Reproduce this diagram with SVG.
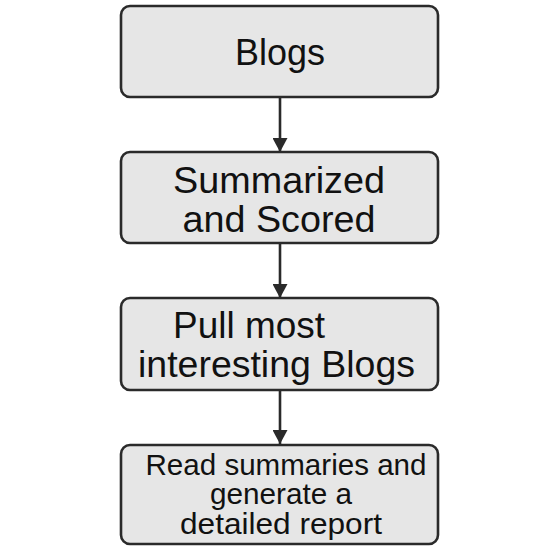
<svg xmlns="http://www.w3.org/2000/svg" width="560" height="560" viewBox="0 0 560 560">
<style>
.box{fill:#e6e6e6;stroke:#2a2a2a;stroke-width:2.6}
.t{font-family:"Liberation Sans",Arial,sans-serif;fill:#111;font-size:36px}
.s{font-size:29px}
.c{stroke:#2a2a2a;stroke-width:2.6;fill:none}
</style>
<defs>
<marker id="ah" viewBox="0 0 14 15" refX="14" refY="7.5" markerWidth="14" markerHeight="15" markerUnits="userSpaceOnUse" orient="auto">
<path d="M0,0 L14,7.5 L0,15 Z" fill="#2a2a2a"/>
</marker>
</defs>
<rect width="560" height="560" fill="#ffffff"/>
<g id="connectors">
<line class="c" x1="280" y1="97" x2="280" y2="152" marker-end="url(#ah)"/>
<line class="c" x1="280" y1="243" x2="280" y2="298" marker-end="url(#ah)"/>
<line class="c" x1="280" y1="390" x2="280" y2="444" marker-end="url(#ah)"/>
</g>
<g id="blogs">
<rect class="box" x="121" y="6" width="317" height="91" rx="9"/>
<text class="t" x="280" y="65" text-anchor="middle" textLength="90" lengthAdjust="spacingAndGlyphs">Blogs</text>
</g>
<g id="summarized">
<rect class="box" x="121" y="152" width="317" height="91" rx="9"/>
<text class="t" x="279" y="193" text-anchor="middle" textLength="212" lengthAdjust="spacingAndGlyphs">Summarized</text>
<text class="t" x="279" y="232" text-anchor="middle" textLength="193" lengthAdjust="spacingAndGlyphs">and Scored</text>
</g>
<g id="pull">
<rect class="box" x="121" y="298" width="317" height="92" rx="9"/>
<text class="t" x="173" y="338" textLength="152" lengthAdjust="spacingAndGlyphs">Pull most</text>
<text class="t" x="138" y="377" textLength="277" lengthAdjust="spacingAndGlyphs">interesting Blogs</text>
</g>
<g id="report">
<rect class="box" x="121" y="445" width="317" height="99" rx="9"/>
<text class="t s" x="286" y="475" text-anchor="middle" textLength="281" lengthAdjust="spacingAndGlyphs">Read summaries and</text>
<text class="t s" x="281" y="504" text-anchor="middle" textLength="142" lengthAdjust="spacingAndGlyphs">generate a</text>
<text class="t s" x="281" y="534" text-anchor="middle" textLength="202" lengthAdjust="spacingAndGlyphs">detailed report</text>
</g>
</svg>
